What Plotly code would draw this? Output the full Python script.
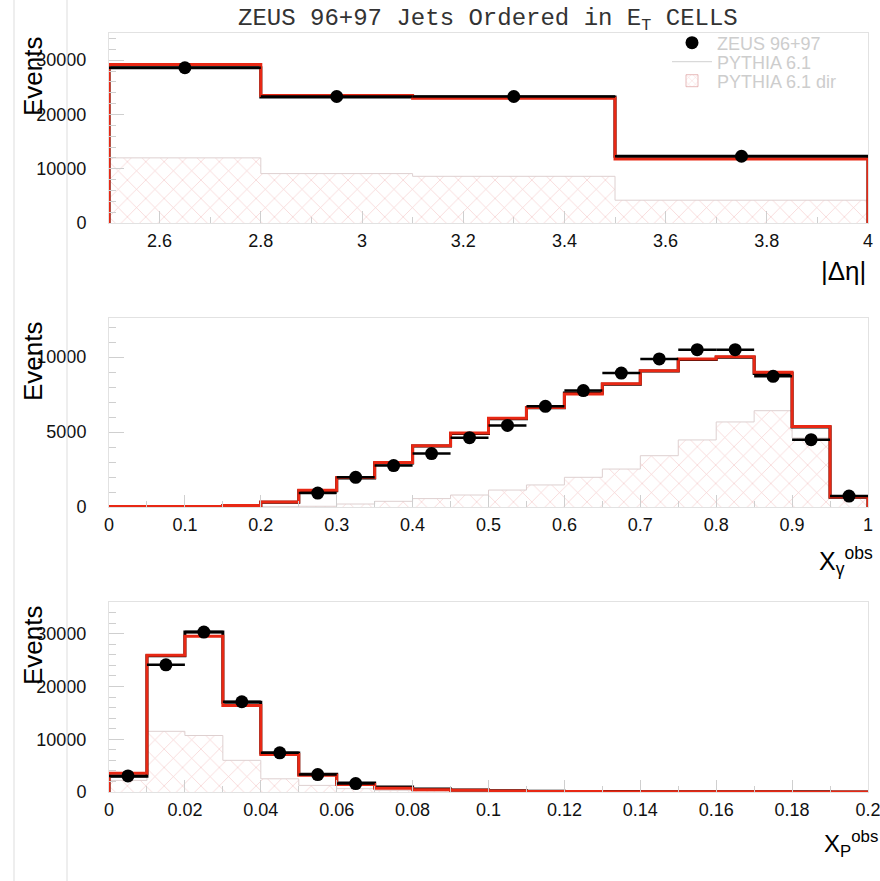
import plotly.graph_objects as go

# ---------------- data ----------------
# Panel 1: |delta eta|
deta_edges = [2.5, 2.8, 3.1, 3.5, 4.0]
deta_data_x = [2.65, 2.95, 3.3, 3.75]
deta_data_y = [28600, 23300, 23300, 12300]
deta_pythia = [28600, 23200, 23200, 12300]
deta_pythia_red = [29200, 23500, 23000, 11800]
deta_dir = [12000, 9100, 8600, 4200]
deta_ticks = [2.6, 2.8, 3.0, 3.2, 3.4, 3.6, 3.8, 4.0]

# Panel 2: x_gamma^obs
xg_edges = [i * 0.05 for i in range(21)]
xg_data_x = [0.275, 0.325, 0.375, 0.425, 0.475, 0.525, 0.575, 0.625,
             0.675, 0.725, 0.775, 0.825, 0.875, 0.925, 0.975]
xg_data_y = [930, 1980, 2760, 3560, 4620, 5440, 6710, 7760,
             8930, 9870, 10490, 10490, 8710, 4490, 730]
xg_pythia = [30, 30, 40, 95, 320, 1090, 1940, 2930, 4060, 4900,
             5880, 6620, 7600, 8190, 9060, 9840, 9990, 8900, 5330, 650]
xg_pythia_red = [30, 30, 40, 100, 330, 1110, 1960, 2960, 4090, 4930,
                 5910, 6640, 7530, 8220, 9090, 9870, 10020, 8980, 5360, 670]
xg_dir = [0, 0, 0, 0, 20, 50, 200, 380, 560, 800,
          1130, 1470, 1980, 2530, 3420, 4470, 5670, 6420, 4600, 620]
xg_ticks = [0, 0.1, 0.2, 0.3, 0.4, 0.5, 0.6, 0.7, 0.8, 0.9, 1.0]

# Panel 3: x_p^obs
xp_edges = [i * 0.01 for i in range(21)]
xp_data_x = [0.005, 0.015, 0.025, 0.035, 0.045, 0.055, 0.065]
xp_data_y = [3050, 24100, 30300, 17100, 7430, 3300, 1590]
xp_pythia = [3000, 25800, 30300, 17000, 7400, 3350, 1700, 950, 570, 380,
             250, 150, 100, 80, 60, 50, 40, 30, 30, 20]
xp_pythia_red = [3550, 25900, 29500, 16400, 7100, 3150, 1400, 700, 440, 320,
                 200, 100, 80, 60, 50, 40, 30, 30, 20, 20]
xp_dir = [2200, 11500, 10700, 6000, 2500, 1250, 630, 320, 200, 120,
          80, 50, 40, 30, 20, 20, 10, 10, 10, 10]
xp_ticks = [0, 0.02, 0.04, 0.06, 0.08, 0.1, 0.12, 0.14, 0.16, 0.18, 0.2]

legend_labels = ["ZEUS 96+97", "PYTHIA 6.1", "PYTHIA 6.1 dir"]

# ---------------- helpers ----------------
W, H = 880, 881
RED = "rgb(232,40,20)"
HATCH = "rgba(225,105,105,0.7)"
TICKC = "#cfcfcf"


def step_xy(edges, vals):
    xs = [edges[0]] + list(edges[:-1]) + [edges[-1], edges[-1]]
    ys = [0] + list(vals) + [vals[-1], 0]
    return xs, ys


def centers(edges):
    return [(a + b) / 2 for a, b in zip(edges[:-1], edges[1:])]


def widths(edges):
    return [b - a for a, b in zip(edges[:-1], edges[1:])]


def fmt(v):
    return ("%g" % v)


fig = go.Figure()

panels = [
    (deta_edges, deta_data_x, deta_data_y, deta_pythia, deta_pythia_red, deta_dir, "x", "y"),
    (xg_edges, xg_data_x, xg_data_y, xg_pythia, xg_pythia_red, xg_dir, "x2", "y2"),
    (xp_edges, xp_data_x, xp_data_y, xp_pythia, xp_pythia_red, xp_dir, "x3", "y3"),
]

for k, (edges, dx, dy, py, pr, pd, xa, ya) in enumerate(panels):
    # hatched direct component
    fig.add_trace(go.Bar(
        x=centers(edges), y=pd, width=widths(edges),
        marker=dict(color="white", line=dict(width=0),
                    pattern=dict(shape="x", fgcolor=HATCH, bgcolor="white",
                                 size=13, solidity=0.1)),
        showlegend=False, xaxis=xa, yaxis=ya,
    ))
    sx, sy = step_xy(edges, pd)
    fig.add_trace(go.Scatter(x=sx, y=sy, mode="lines",
                             line=dict(color="rgba(222,208,208,1)", width=1, shape="hv"),
                             showlegend=False, xaxis=xa, yaxis=ya))
    sx, sy = step_xy(edges, py)
    fig.add_trace(go.Scatter(x=sx, y=sy, mode="lines", line=dict(color="black", width=3, shape="hv"),
                             showlegend=False, xaxis=xa, yaxis=ya))
    sx, sy = step_xy(edges, pr)
    fig.add_trace(go.Scatter(x=sx, y=sy, mode="lines", line=dict(color=RED, width=3, shape="hv"),
                             showlegend=False, xaxis=xa, yaxis=ya))
    half = []
    for xc in dx:
        for a, b in zip(edges[:-1], edges[1:]):
            if a <= xc < b:
                half.append((b - a) / 2)
                break
    fig.add_trace(go.Scatter(
        x=dx, y=dy, mode="markers",
        marker=dict(color="black", size=13),
        error_x=dict(type="data", array=half, color="black", thickness=2.5, width=0),
        name=legend_labels[0], showlegend=(k == 0), legend="legend",
        xaxis=xa, yaxis=ya))

# legend-only entries
fig.add_trace(go.Scatter(x=[None], y=[None], mode="lines",
                         line=dict(color="#d0d0d0", width=1),
                         name=legend_labels[1], legend="legend2"))
fig.add_trace(go.Bar(x=[None], y=[None],
                     marker=dict(color="white", line=dict(color="rgba(225,170,170,0.8)", width=1),
                                 pattern=dict(shape="x", fgcolor=HATCH, bgcolor="white",
                                              size=6, solidity=0.15)),
                     name=legend_labels[2], legend="legend3"))

# ---------------- layout ----------------
def ydom(top_px, bot_px):
    return [1 - bot_px / H, 1 - top_px / H]


xdom = [109 / W, 868 / W]
axis_common = dict(showline=True, mirror=True, linecolor="#e2e2e2", linewidth=1,
                   showgrid=False, zeroline=False, ticks="inside", tickcolor=TICKC,
                   ticklabeloverflow="allow",
                   tickfont=dict(family="Liberation Sans, Arial", size=18, color="#111"))

x_common = dict(axis_common, ticklen=12, ticklabelstandoff=1, tickmode="array",
                minor=dict(ticks="inside", ticklen=6, tickcolor=TICKC, nticks=5))
y_common = dict(axis_common, ticklen=15, ticklabelstandoff=18, tickformat="d",
                minor=dict(ticks="inside", ticklen=7, tickcolor=TICKC, nticks=5))

leg_common = dict(xanchor="left", yanchor="middle", bgcolor="rgba(0,0,0,0)", borderwidth=0,
                  font=dict(family="Liberation Sans, Arial", size=18, color="#cdcdcd"),
                  itemwidth=40)

fig.update_layout(
    autosize=True,
    margin=dict(l=0, r=0, t=0, b=0, autoexpand=False),
    paper_bgcolor="white", plot_bgcolor="white",
    barmode="overlay", bargap=0,
    xaxis=dict(x_common, domain=xdom, anchor="y", range=[2.5, 4.0],
               tickvals=deta_ticks, ticktext=[fmt(v) for v in deta_ticks]),
    yaxis=dict(y_common, domain=ydom(33, 223), anchor="x", range=[0, 35000], dtick=10000),
    xaxis2=dict(x_common, domain=xdom, anchor="y2", range=[0, 1],
                tickvals=xg_ticks, ticktext=[fmt(v) for v in xg_ticks]),
    yaxis2=dict(y_common, domain=ydom(318, 507), anchor="x2", range=[0, 12600], dtick=5000),
    xaxis3=dict(x_common, domain=xdom, anchor="y3", range=[0, 0.2],
                tickvals=xp_ticks, ticktext=[fmt(v) for v in xp_ticks]),
    yaxis3=dict(y_common, domain=ydom(602, 792), anchor="x3", range=[0, 36000], dtick=10000),
    legend=dict(leg_common, x=667 / W, y=1 - 43 / H),
    legend2=dict(leg_common, x=667 / W, y=1 - 62 / H),
    legend3=dict(leg_common, x=667 / W, y=1 - 81 / H),
    showlegend=True,
)

# frame lines on the left of the canvas
for px in (14, 67):
    fig.add_shape(type="line", xref="paper", yref="paper", x0=px / W, x1=px / W, y0=0, y1=1,
                  line=dict(color="#dddddd", width=1))

ann_font = dict(family="Liberation Sans, Arial", color="black")
# title
fig.add_annotation(text="ZEUS 96+97 Jets Ordered in E<sub>T</sub> CELLS",
                   xref="paper", yref="paper", x=488 / W, y=1 - 3 / H,
                   xanchor="center", yanchor="top", showarrow=False,
                   font=dict(family="Liberation Mono, Courier New", size=24, color="#333"))
# y titles
for top_px in (33, 318, 602):
    fig.add_annotation(text="Events", textangle=-90, xref="paper", yref="paper",
                       x=33 / W, y=1 - (top_px + 1) / H, xanchor="center", yanchor="top",
                       showarrow=False, font=dict(ann_font, size=26))
# x titles
fig.add_annotation(text="|Δη|", xref="paper", yref="paper", x=868 / W, y=1 - 271 / H,
                   xanchor="right", yanchor="middle", showarrow=False, font=dict(ann_font, size=26))
fig.add_annotation(text="X<sub>γ</sub><sup>obs</sup>", xref="paper", yref="paper", x=875 / W,
                   y=1 - 561 / H, xanchor="right", yanchor="middle", showarrow=False,
                   font=dict(ann_font, size=25))
fig.add_annotation(text="X<sub>P</sub><sup>obs</sup>", xref="paper", yref="paper", x=880 / W,
                   y=1 - 844 / H, xanchor="right", yanchor="middle", showarrow=False,
                   font=dict(ann_font, size=24))

fig.write_html(
    "out.html",
    default_width="100vw", default_height="100vh",
    config={"displayModeBar": False, "responsive": True},
    post_script=("document.documentElement.style.overflow='hidden';"
                 "document.body.style.margin='0';document.body.style.overflow='hidden';"
                 "Plotly.Plots.resize(document.getElementById('{plot_id}'));"),
)
